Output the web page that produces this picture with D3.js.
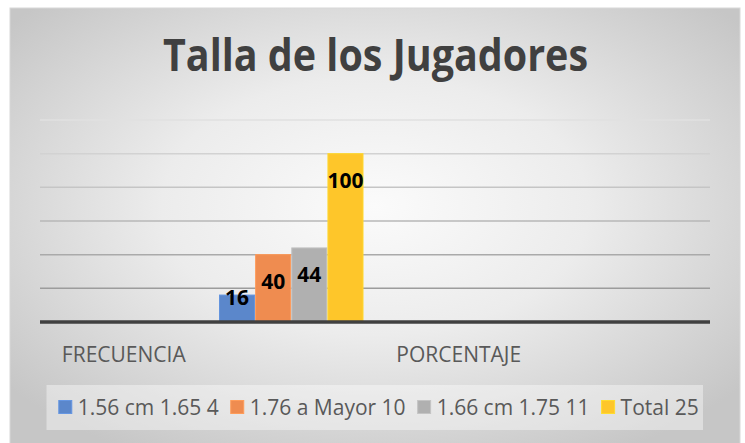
<!DOCTYPE html>
<html>
<head>
<meta charset="utf-8">
<script src="https://cdn.jsdelivr.net/npm/d3@7"></script>
<style>
  body { margin: 0; background: #fff; }
  svg { display: block; font-family: "Open Sans", "Noto Sans", sans-serif; }
</style>
</head>
<body>
<div id="chart"></div>
<script>
"use strict";

// data
var title = "Talla de los Jugadores";
var categories = ["FRECUENCIA", "", "PORCENTAJE", ""];
var seriesNames = ["1.56 cm 1.65 4", "1.76 a Mayor 10", "1.66 cm 1.75 11", "Total 25"];
var serie1 = [null, 16, null, null];
var serie2 = [null, 40, null, null];
var serie3 = [null, 44, null, null];
var serie4 = [null, 100, null, null];
var yTicks = [0, 20, 40, 60, 80, 100, 120];
var colors = ["#5b87cb", "#ef8c50", "#b0b0b0", "#fec62a"];

var seriesValues = [serie1, serie2, serie3, serie4];

function Chart(container) {
  var W = 745, H = 443;
  var plot = {left: 40, right: 710, top: 120, bottom: 322};
  var svg = d3.select(container).append('svg')
    .attr('width', W)
    .attr('height', H);

  var defs = svg.append('defs');
  var grad = defs.append('radialGradient')
    .attr('id', 'bg')
    .attr('cx', '50%').attr('cy', '45%').attr('r', '65%');
  grad.append('stop').attr('offset', '0%').attr('stop-color', '#fbfbfb');
  grad.append('stop').attr('offset', '45%').attr('stop-color', '#ececec');
  grad.append('stop').attr('offset', '100%').attr('stop-color', '#c6c6c6');

  // chart area
  svg.append('rect')
    .attr('x', 10).attr('y', 8)
    .attr('width', 730).attr('height', 440)
    .attr('fill', 'url(#bg)')
    .attr('stroke', '#d8d8d8')
    .attr('stroke-width', 1);

  // title
  svg.append('text')
    .attr('x', 375.5)
    .attr('y', 71)
    .attr('text-anchor', 'middle')
    .attr('font-size', 44)
    .attr('font-weight', 'bold')
    .attr('fill', '#404040')
    .attr('textLength', 425)
    .attr('lengthAdjust', 'spacingAndGlyphs')
    .text(title);

  var x0 = d3.scaleBand()
    .domain(d3.range(categories.length))
    .range([plot.left, plot.right])
    .padding(0);

  var x1 = d3.scaleBand()
    .domain(d3.range(seriesNames.length))
    .range([12, x0.bandwidth() - 12])
    .paddingInner(0.03);

  var y = d3.scaleLinear()
    .domain([0, 120])
    .range([plot.bottom, plot.top]);

  var gridColor = d3.scaleLinear()
    .domain([20, 120])
    .range(['#9c9c9c', '#e0e0e0']);

  // gridlines
  svg.append('g')
    .selectAll('line')
    .data(yTicks.filter(function(d) { return d > 0; }))
    .enter()
      .append('line')
        .attr('x1', plot.left)
        .attr('x2', plot.right)
        .attr('y1', function(d) { return y(d); })
        .attr('y2', function(d) { return y(d); })
        .attr('stroke', function(d) { return gridColor(d); })
        .attr('stroke-width', 1.5);

  // bars
  var bars = [];
  seriesValues.forEach(function(vals, s) {
    vals.forEach(function(v, c) {
      if (v !== null) bars.push({s: s, c: c, v: v});
    });
  });

  svg.append('g')
    .selectAll('rect')
    .data(bars)
    .enter()
      .append('rect')
        .attr('x', function(d) { return x0(d.c) + x1(d.s); })
        .attr('y', function(d) { return y(d.v); })
        .attr('width', x1.bandwidth())
        .attr('height', function(d) { return y(0) - y(d.v); })
        .attr('fill', function(d) { return colors[d.s]; })
        .attr('stroke', function(d) { return d3.color(colors[d.s]).brighter(0.25); })
        .attr('stroke-width', 1);

  // data labels
  svg.append('g')
    .selectAll('text')
    .data(bars)
    .enter()
      .append('text')
        .attr('x', function(d) { return x0(d.c) + x1(d.s) + x1.bandwidth() / 2; })
        .attr('y', function(d) {
          var h = y(0) - y(d.v);
          return y(d.v) + Math.min(27, h - 25);
        })
        .attr('dy', '0.36em')
        .attr('text-anchor', 'middle')
        .attr('font-size', 21)
        .attr('font-weight', 'bold')
        .attr('fill', '#000')
        .text(function(d) { return d.v; });

  // baseline
  svg.append('line')
    .attr('x1', plot.left)
    .attr('x2', plot.right)
    .attr('y1', y(0))
    .attr('y2', y(0))
    .attr('stroke', '#404040')
    .attr('stroke-width', 3.5);

  // category axis
  var xAxis = d3.axisBottom(x0)
    .tickSize(0)
    .tickPadding(0)
    .tickFormat(function(i) { return categories[i]; });

  var gx = svg.append('g')
    .attr('transform', 'translate(0,' + 347 + ')')
    .call(xAxis);
  gx.select('.domain').remove();
  gx.selectAll('text')
    .attr('font-family', '"Open Sans", sans-serif')
    .attr('font-size', 21)
    .attr('fill', '#595959')
    .attr('dy', '0.71em');

  // legend
  var box = {x: 46.5, y: 385, w: 656.5, h: 45};
  svg.append('rect')
    .attr('x', box.x).attr('y', box.y)
    .attr('width', box.w).attr('height', box.h)
    .attr('fill', '#ffffff')
    .attr('fill-opacity', 0.4);

  var legend = svg.append('g');
  var items = legend.selectAll('g')
    .data(seriesNames)
    .enter()
      .append('g');

  items.append('rect')
    .attr('width', 13)
    .attr('height', 13)
    .attr('y', -6.5)
    .attr('fill', function(d, i) { return colors[i]; })
    .attr('stroke', function(d, i) { return d3.color(colors[i]).brighter(0.3); })
    .attr('stroke-width', 1);

  items.append('text')
    .attr('x', 19)
    .attr('dy', '0.36em')
    .attr('font-size', 21)
    .attr('fill', '#595959')
    .text(function(d) { return d; });

  var pos = 0;
  var offsets = [];
  items.each(function(d) {
    offsets.push(pos);
    var tw = d3.select(this).select('text').node().getComputedTextLength();
    pos += 19 + tw + 12;
  });
  var total = pos - 12;
  var start = box.x + (box.w - total) / 2 + 4;
  items.attr('transform', function(d, i) {
    return 'translate(' + (start + offsets[i]) + ',' + 407 + ')';
  });

  return svg;
}

Chart('#chart');
</script>
</body>
</html>
